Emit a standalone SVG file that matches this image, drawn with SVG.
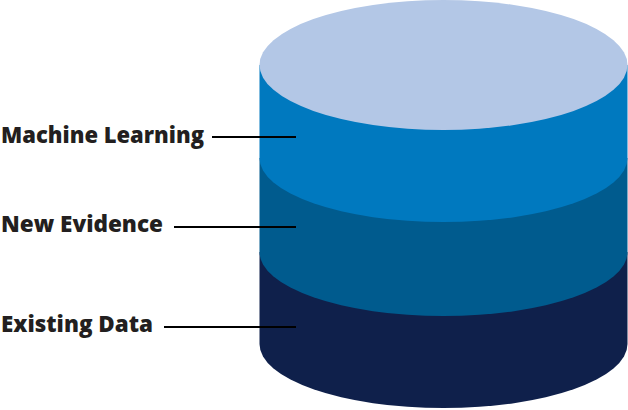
<svg xmlns="http://www.w3.org/2000/svg" width="628" height="410" viewBox="0 0 628 410">
  <style>
    .lbl { font-family: "Open Sans", "Liberation Sans", Arial, sans-serif; font-weight: 800; font-size: 22px; fill: #231f20; }
    .conn { stroke: #000; stroke-width: 2; fill: none; }
  </style>
  <rect width="628" height="410" fill="#fff"/>
  <g id="existing-data">
    <path d="M259.5,252 V344 A184,64 0 0 0 627.5,344 V252 Z" fill="#0f204b"/>
    <text class="lbl" x="1" y="332" textLength="152" lengthAdjust="spacingAndGlyphs">Existing Data</text>
  </g>
  <g id="new-evidence">
    <path d="M259.5,158 V252 A184,64 0 0 0 627.5,252 V158 Z" fill="#005b8e"/>
    <text class="lbl" x="1" y="232" textLength="162" lengthAdjust="spacingAndGlyphs">New Evidence</text>
  </g>
  <g id="machine-learning">
    <path d="M259.5,65 V158 A184,64 0 0 0 627.5,158 V65 Z" fill="#0079bf"/>
    <text class="lbl" x="1" y="143" textLength="203" lengthAdjust="spacingAndGlyphs">Machine Learning</text>
  </g>
  <g id="top">
    <ellipse cx="443.5" cy="65" rx="184" ry="65" fill="#b3c7e6"/>
  </g>
  <g id="connectors">
    <line class="conn" x1="212" y1="137" x2="296" y2="137"/>
    <line class="conn" x1="174" y1="227" x2="296" y2="227"/>
    <line class="conn" x1="164" y1="327" x2="296" y2="327"/>
  </g>
</svg>
